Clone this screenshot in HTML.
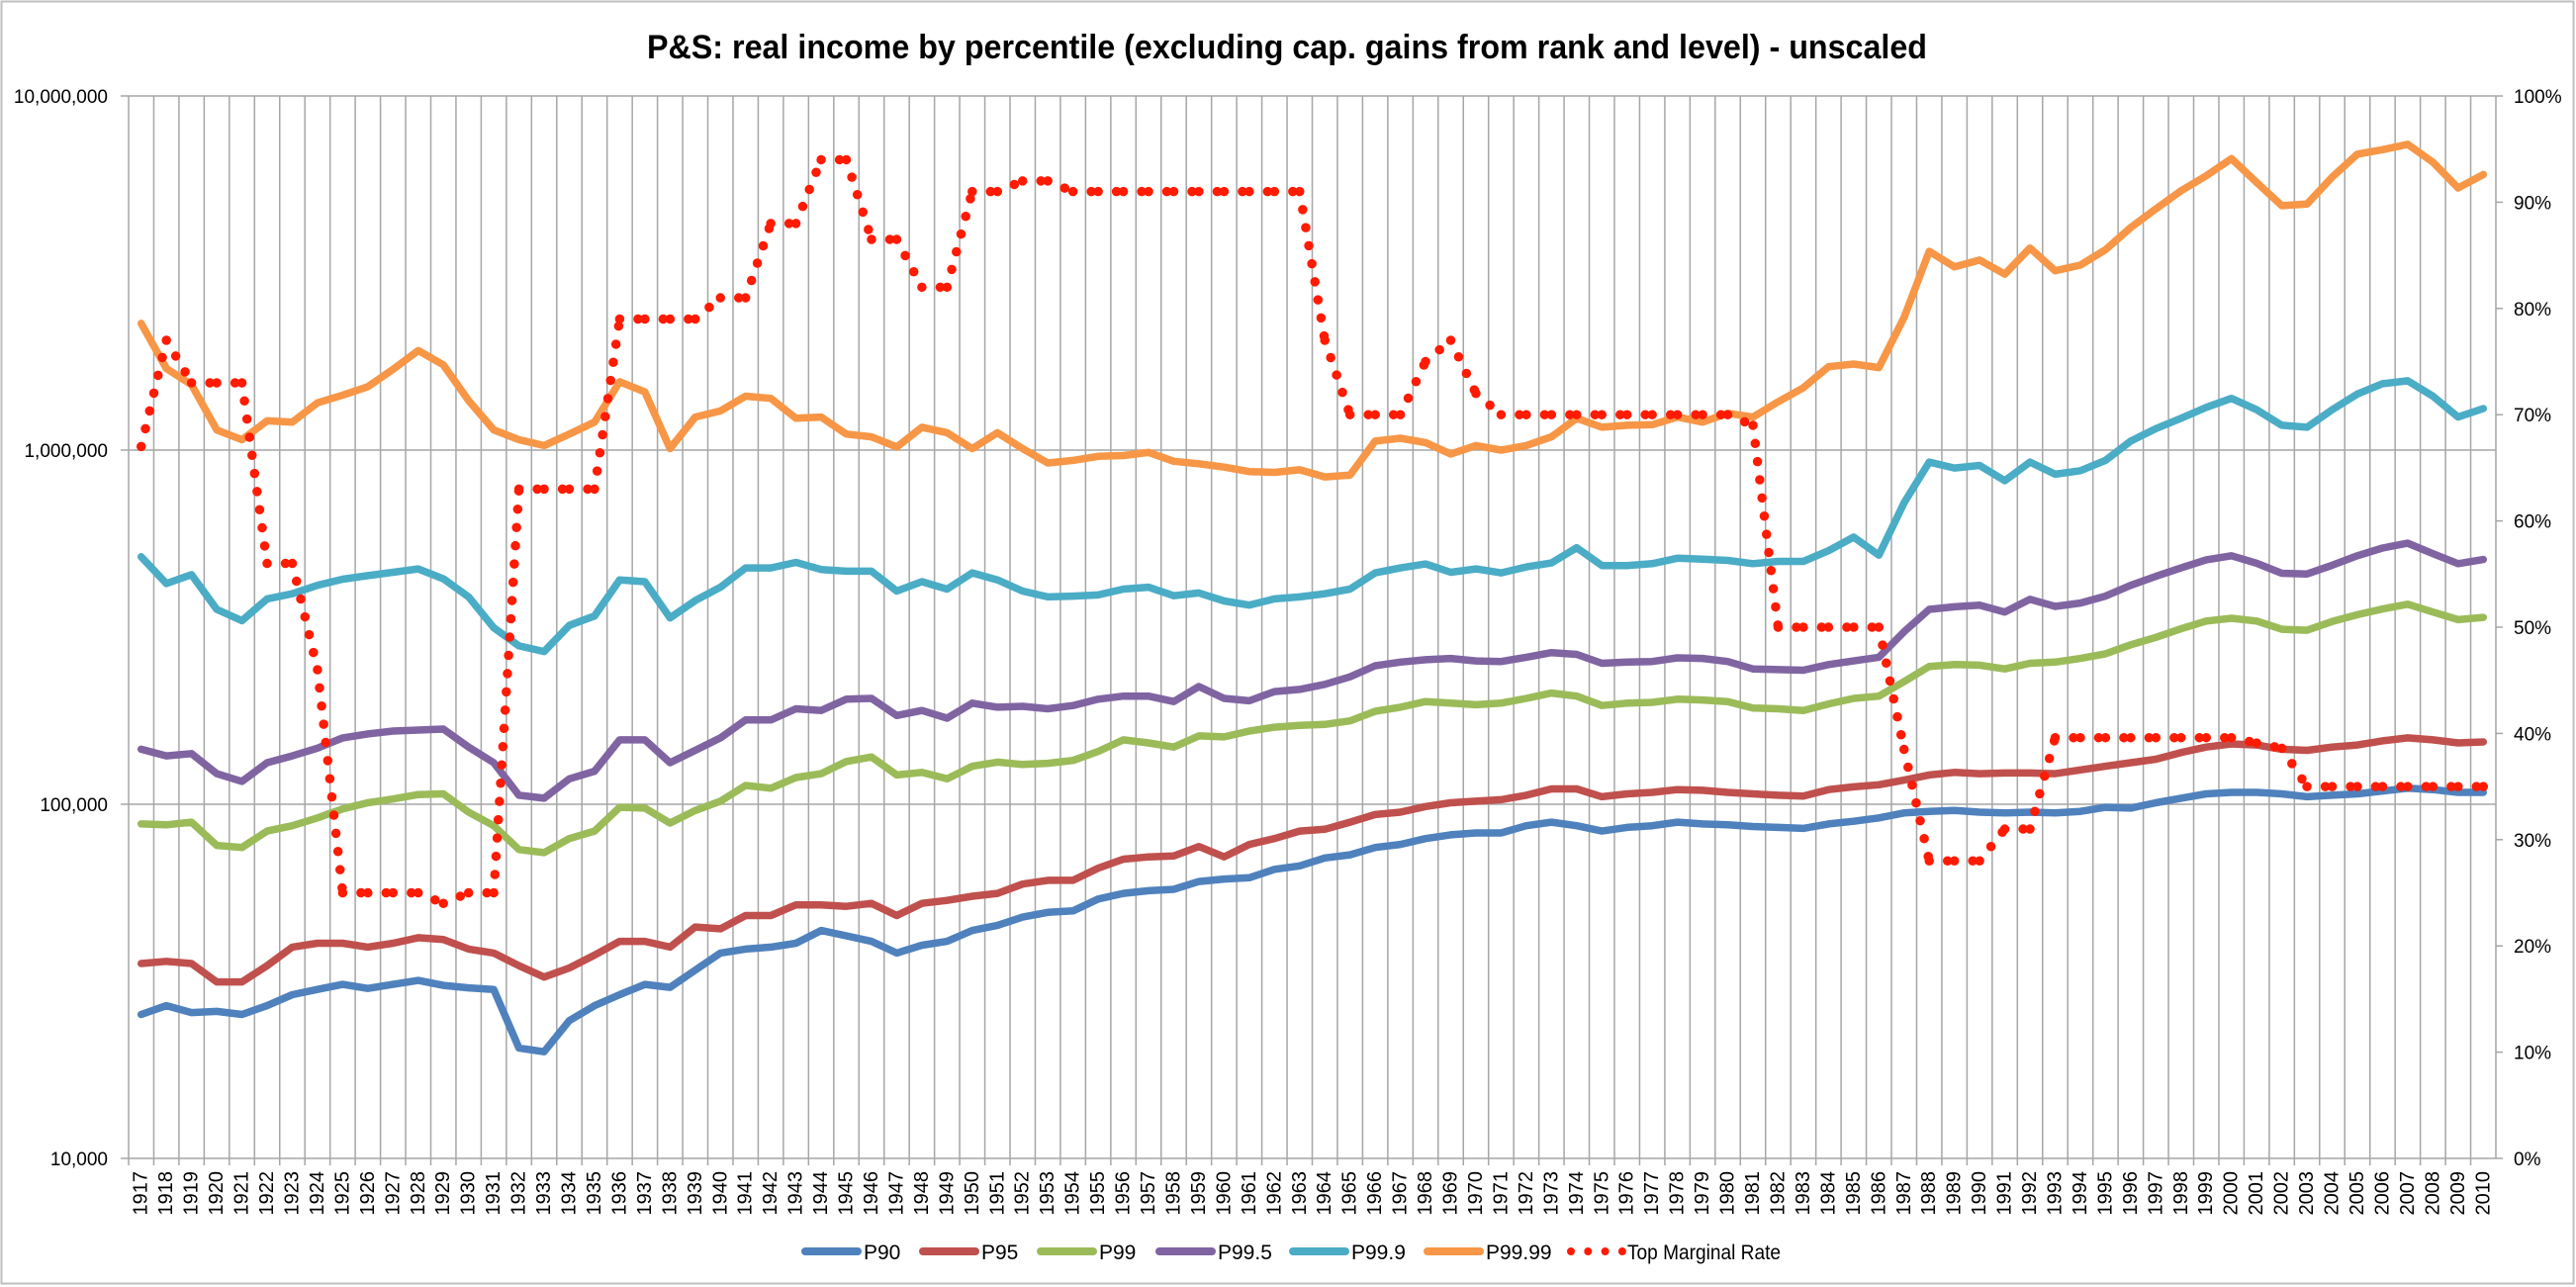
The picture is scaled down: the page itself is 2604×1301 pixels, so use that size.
<!DOCTYPE html>
<html><head><meta charset="utf-8"><title>P&amp;S real income by percentile</title>
<style>
html,body{margin:0;padding:0;background:#fff;}
svg{display:block;font-family:"Liberation Sans",Arial,sans-serif;}
</style></head>
<body>
<svg id="chart" width="2604" height="1301" viewBox="0 0 2604 1301" xmlns="http://www.w3.org/2000/svg">
<rect x="1.5" y="1.5" width="2600" height="1296" fill="#fff" stroke="#bfbfbf" stroke-width="2"/>
<text x="654" y="59" font-size="34" font-weight="bold" textLength="1294" lengthAdjust="spacingAndGlyphs">P&amp;S: real income by percentile (excluding cap. gains from rank and level) - unscaled</text>
<g id="grid"></g>
<g id="series"></g>
<g id="axes"></g>
<g id="legend"></g>
</svg>
<script>
const years = [];
for (let y = 1917; y <= 2010; y++) years.push(y);
const p90 = [25.5,27,25.8,26,25.5,27,29,30,31,30.2, 31,31.8,30.8,30.3,30,20.5,20,24.5,27,29, 31,30.4,34,38,39,39.5,40.5,44,42.5,41, 38,40,41,44,45.5,48,49.5,50,54,56, 57,57.5,60.5,61.5,62,65.5,67,70.5,72,75.5, 77,80,82,83,83,87,89,87,84,86, 87,89,88,87.5,86.5,86,85.5,88,89.5,91.5, 94.5,95.5,96,95,94.5,95,94.5,95.5,98,97.5, 101,104,107,108,108,107,105,106,107,109, 111,110,108,108];
const p95 = [35.5,36,35.5,31.5,31.5,35,39.5,40.5,40.5,39.5, 40.5,42,41.5,39,38,35,32.5,34.5,37.5,41, 41,39.5,45,44.5,48.5,48.5,52,52,51.5,52.5, 48.5,52.5,53.5,55,56,59.5,61,61,66,70, 71,71.5,76,71,77,80,84,85,89,93.5, 95,98.5,101,102,103,106,110.5,110.5,105,107, 108,110,109.5,108,107,106,105.5,110,112,113.5, 117,121,123,122,122.5,122.5,122,125,128,131, 134,140,145,148,147,143,142,145,147,151, 154,152,149,150];
const p99 = [88,87.5,89,76.5,75.5,84,87,91.5,97,101, 103.5,106.5,107,95,87,74.5,73,80,84,98, 97.5,88.5,96,102,113,111,119,122,132,136, 121,123,118,128,131.5,129.5,130.5,133,141,152, 149,145,156,155,161,165,167,168,172,183, 188,195,193,191,193,199,206,202,190,193, 194,198,197,195,187,186,184,192,199,202, 222,245,248,247,241,250,252,258,266,282, 296,313,329,335,329,312,310,328,343,356, 367,349,332,337];
const p995 = [143,137,139,122,116,131,137,144,154,158, 161,162,163,145,131,106,104,118,124,152, 152,131,142,154,173,173,186,184,198,199, 178,184,175,193,188,189,186,190,198,202, 202,195,215,199,196,208,211,218,229,246, 252,256,258,254,253,260,268,265,250,252, 253,259,258,253,241,240,239,248,254,260, 307,355,361,365,349,379,362,370,387,415, 440,465,490,503,479,449,447,473,503,529, 546,510,478,491];
const p999 = [500,420,445,355,330,380,393,415,432,442, 452,462,433,385,315,280,270,320,340,430, 425,336,376,410,465,465,482,460,455,455, 400,425,405,450,430,400,385,387,390,405, 410,388,395,375,365,380,385,393,405,450, 465,477,452,462,450,468,480,530,472,472, 478,495,492,488,478,485,485,520,568,505, 710,925,890,905,820,925,855,875,935,1060, 1150,1230,1320,1400,1300,1175,1160,1300,1440,1540, 1570,1420,1240,1310];
const p9999 = [2280,1700,1530,1140,1070,1210,1200,1360,1430,1510, 1690,1910,1740,1380,1140,1070,1030,1110,1200,1560, 1460,1010,1240,1290,1420,1400,1230,1240,1110,1090, 1020,1160,1120,1010,1120,1010,920,935,960,965, 985,930,915,895,870,865,880,840,850,1060, 1080,1050,975,1030,1000,1030,1090,1230,1160,1175, 1180,1240,1200,1270,1240,1370,1500,1720,1750,1710, 2370,3640,3290,3440,3140,3720,3210,3330,3680,4250, 4800,5400,5950,6650,5700,4900,4950,5900,6850,7050, 7300,6500,5500,6000];
const topRate = [67,77,73,73,73,56,56,46,25,25, 25,25,24,25,25,63,63,63,63,79, 79,79,79,81,81,88,88,94,94,86.5, 86.5,82,82,91,91,92,92,91,91,91, 91,91,91,91,91,91,91,77,70,70, 70,75,77,72,70,70,70,70,70,70, 70,70,70,70,69,50,50,50,50,50, 38.5,28,28,28,31,31,39.6,39.6,39.6,39.6, 39.6,39.6,39.6,39.6,39.1,38.6,35,35,35,35, 35,35,35,35];
const leftTicks = [10000, 100000, 1000000, 10000000];
const leftTickLabels = ["10,000", "100,000", "1,000,000", "10,000,000"];
const rightTicks = [0,10,20,30,40,50,60,70,80,90,100];
const seriesNames = ["P90","P95","P99","P99.5","P99.9","P99.99"];

const NS = "http://www.w3.org/2000/svg";
const L = 130, R = 2523, T = 97, B = 1171;
const n = years.length;
const bw = (R - L) / n;
function xPos(i){ return L + (i + 0.5) * bw; }
function yLog(v){ return B - (Math.log10(v * 1000) - 4) * (B - T) / 3; }
function yLogRaw(v){ return B - (Math.log10(v) - 4) * (B - T) / 3; }
function yPct(p){ return B - p * (B - T) / 100; }
function mk(tag, attrs, parent){
  const e = document.createElementNS(NS, tag);
  for (const k in attrs) e.setAttribute(k, attrs[k]);
  parent.appendChild(e);
  return e;
}
const grid = document.getElementById('grid');
const axes = document.getElementById('axes');
const ser = document.getElementById('series');
const legend = document.getElementById('legend');
const gc = "#a6a6a6";

for (let i = 1; i < n; i++) {
  const x = L + i * bw;
  const ln = mk('line', {x1:x, x2:x, y1:T, y2:B+7, stroke:gc, 'stroke-width':1.5}, grid);
  
  
}
leftTicks.forEach((v, k) => {
  const y = yLogRaw(v);
  const ln = mk('line', {x1:L-8, x2:R, y1:y, y2:y, stroke:gc, 'stroke-width':1.5}, grid);
  
  
  const t = mk('text', {x:109, y:y+7, 'font-size':19, 'text-anchor':'end', fill:'#000'}, axes);
  t.textContent = leftTickLabels[k];
  
  
});
const la = mk('line', {x1:L, x2:L, y1:T, y2:B+7, stroke:gc, 'stroke-width':1.5}, axes);


const ra = mk('line', {x1:R, x2:R, y1:T, y2:B, stroke:gc, 'stroke-width':1.5}, axes);


rightTicks.forEach(p => {
  const y = yPct(p);
  const tk = mk('line', {x1:R, x2:R+7, y1:y, y2:y, stroke:gc, 'stroke-width':1.5}, axes);
  
  
  const t = mk('text', {x:2541, y:y+7, 'font-size':19, fill:'#000'}, axes);
  t.textContent = p + '%';
  
  
});
years.forEach((yr, i) => {
  const x = xPos(i), y = 1184;
  const t = mk('text', {x:x, y:y, 'font-size':20, 'text-anchor':'end', 'dominant-baseline':'central', transform:`rotate(-90 ${x} ${y})`, fill:'#000'}, axes);
  t.textContent = yr;
  
  
});

const colors = ["#4F81BD","#C0504D","#9BBB59","#8064A2","#4BACC6","#F79646"];
const data = [p90, p95, p99, p995, p999, p9999];
data.forEach((arr, s) => {
  const d = arr.map((v, i) => (i ? 'L' : 'M') + xPos(i).toFixed(1) + ' ' + yLog(v).toFixed(1)).join(' ');
  const p = mk('path', {d:d, fill:'none', stroke:colors[s], 'stroke-width':7.5, 'stroke-linejoin':'round', 'stroke-linecap':'round'}, ser);
  
  
});
// dotted rate line: pattern restarts per segment (as in Excel)
const rateG = mk('g', {}, ser);


for (let i = 0; i < topRate.length - 1; i++) {
  const seg = mk('line', {x1:xPos(i), y1:yPct(topRate[i]), x2:xPos(i+1), y2:yPct(topRate[i+1]), stroke:'#FF1A00', 'stroke-width':9.5, 'stroke-linecap':'round', 'stroke-dasharray':'0 18.5'}, rateG);
  
  
}
const lastDot = mk('circle', {cx:xPos(topRate.length-1), cy:yPct(topRate[topRate.length-1]), r:4.75, fill:'#FF1A00'}, rateG);



const lx = [810, 929, 1048, 1168, 1303, 1439];
const ly = 1265;
seriesNames.forEach((nm, s) => {
  const g = mk('g', {}, legend);
  
  
  mk('line', {x1:lx[s]+4, x2:lx[s]+57, y1:ly, y2:ly, stroke:colors[s], 'stroke-width':8, 'stroke-linecap':'round'}, g);
  const t = mk('text', {x:lx[s]+63, y:ly+8, 'font-size':21, fill:'#000'}, g);
  t.textContent = nm;
});
const g2 = mk('g', {}, legend);


mk('line', {x1:1588, x2:1640, y1:ly, y2:ly, stroke:'#FF1A00', 'stroke-width':8, 'stroke-linecap':'round', 'stroke-dasharray':'0 17.3'}, g2);
const tt = mk('text', {x:1645, y:ly+8, 'font-size':21, fill:'#000', textLength:155, lengthAdjust:'spacingAndGlyphs'}, g2);
tt.textContent = 'Top Marginal Rate';
</script>
</body></html>
